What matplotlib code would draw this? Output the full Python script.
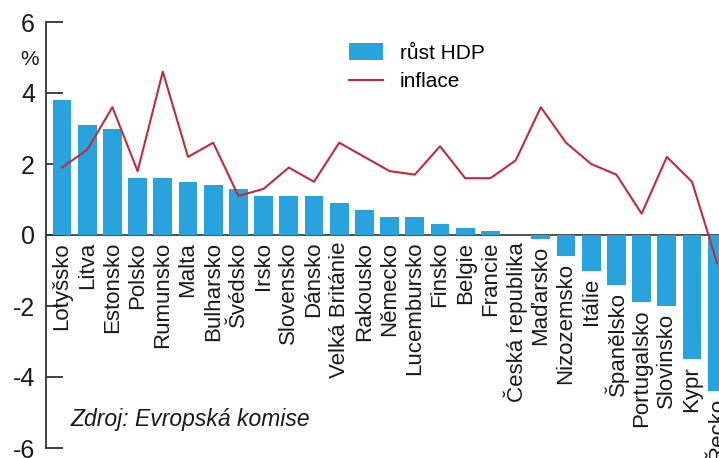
import numpy as np
import matplotlib
matplotlib.use("Agg")
import matplotlib.pyplot as plt
from matplotlib.patches import Patch
from matplotlib.lines import Line2D

plt.rcParams['font.family'] = ['Liberation Sans', 'DejaVu Sans']

# Země EU seřazené podle růstu HDP
zeme = ['Lotyšsko', 'Litva', 'Estonsko', 'Polsko', 'Rumunsko', 'Malta',
        'Bulharsko', 'Švédsko', 'Irsko', 'Slovensko', 'Dánsko',
        'Velká Británie', 'Rakousko', 'Německo', 'Lucembursko', 'Finsko',
        'Belgie', 'Francie', 'Česká republika', 'Maďarsko', 'Nizozemsko',
        'Itálie', 'Španělsko', 'Portugalsko', 'Slovinsko', 'Kypr', 'Řecko']

# růst HDP v %
rust_hdp = [3.8, 3.1, 3.0, 1.6, 1.6, 1.5, 1.4, 1.3, 1.1, 1.1, 1.1, 0.9, 0.7,
            0.5, 0.5, 0.3, 0.2, 0.1, 0.0, -0.1, -0.6, -1.0, -1.4, -1.9, -2.0,
            -3.5, -4.4]

# inflace v %
inflace = [1.9, 2.4, 3.6, 1.8, 4.6, 2.2, 2.6, 1.1, 1.3, 1.9, 1.5, 2.6, 2.2,
           1.8, 1.7, 2.5, 1.6, 1.6, 2.1, 3.6, 2.6, 2.0, 1.7, 0.6, 2.2, 1.5,
           -0.8]

y_ticks = [6, 4, 2, 0, -2, -4, -6]

modra = '#29a3dd'
cervena = '#c8283a'

fig = plt.figure(figsize=(7.19, 4.58), dpi=100)
ax = fig.add_axes([46 / 719, 10 / 458, 1 - 46 / 719, 426 / 458])

x = np.arange(len(zeme))
ax.axhline(0, color='#333333', lw=1.2, zorder=1)
ax.bar(x, rust_hdp, width=0.75, color=modra, zorder=2)
ax.plot(x, inflace, color=cervena, lw=1.5, zorder=3)

ax.set_xlim(-0.635, 26.07)
ax.set_ylim(-6, 6)

# popisky zemí pod sloupci
for xi, name, v in zip(x, zeme, rust_hdp):
    ax.annotate(name, (xi, min(0, v)), xytext=(0, -5),
                textcoords='offset points', rotation=90,
                ha='center', va='top', fontsize=16, color='#1a1a1a',
                annotation_clip=False)

for s in ['top', 'right', 'bottom']:
    ax.spines[s].set_visible(False)
ax.spines['left'].set_color('#333333')
ax.spines['left'].set_linewidth(1.3)
ax.set_xticks([])
ax.set_yticks(y_ticks)
ax.set_yticklabels([str(t) for t in y_ticks])
ax.tick_params(axis='y', direction='in', length=12, width=1.3,
               color='#333333', labelsize=18, pad=8, labelcolor='#1a1a1a')

ax.text(-0.025, 0.911, '%', transform=ax.transAxes, ha='center',
        va='center', fontsize=15, color='#1a1a1a')
ax.text(0.036, 0.066, 'Zdroj: Evropská komise', transform=ax.transAxes,
        ha='left', va='center', fontsize=16.5, style='italic', color='#1a1a1a')

handles = [Patch(facecolor=modra, edgecolor='none'),
           Line2D([], [], color=cervena, lw=1.5)]
ax.legend(handles, ['růst HDP', 'inflace'], loc='upper left',
          bbox_to_anchor=(349 / 719, 1 - 43 / 458),
          bbox_transform=fig.transFigure, frameon=False, fontsize=15,
          handlelength=1.65, handleheight=0.85, handletextpad=0.8,
          labelspacing=0.45, borderpad=0, borderaxespad=0)

fig.savefig('out.png', dpi=100)
